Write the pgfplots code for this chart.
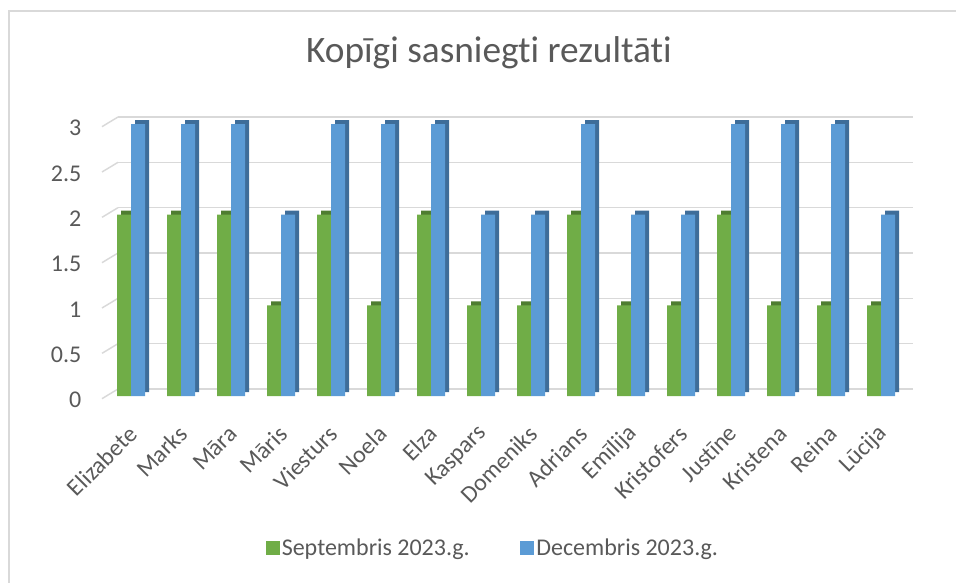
\documentclass[border=0pt]{standalone}
\usepackage{pgfplots}
\pgfplotsset{compat=1.18}
\usepackage{pgfplotstable}
\usepackage{fontspec}
\setmainfont{Carlito}[Ligatures={NoCommon,NoDiscretionary,NoRare}]
\definecolor{sgreen}{HTML}{70AD47}
\definecolor{dgreen}{HTML}{4E7D31}
\definecolor{sblue}{HTML}{5B9BD5}
\definecolor{dblue}{HTML}{3E6D99}
\definecolor{gridgray}{HTML}{D9D9D9}
\definecolor{txt}{HTML}{595959}
\pgfplotstableread{
x name sep dec
0 Elizabete 2 3
1 Marks 2 3
2 Māra 2 3
3 Māris 1 2
4 Viesturs 2 3
5 Noela 1 3
6 Elza 2 3
7 Kaspars 1 2
8 Domeniks 1 2
9 Adrians 2 3
10 Emīlija 1 2
11 Kristofers 1 2
12 Justīne 2 3
13 Kristena 1 3
14 Reina 1 3
15 Lūcija 1 2
}\data
\begin{document}
\begin{tikzpicture}[x=0.75pt,y=0.75pt]
\useasboundingbox (0,0) rectangle (956,582);
\draw[gridgray, line width=1.1pt] (9,-5) -- (9,571) -- (960,571);
\node[text=txt, font=\fontsize{28}{33}\selectfont] at (489,529) {Kopīgi sasniegti rezultāti};
\begin{axis}[
  at={(88.5pt,139.5pt)}, anchor=south west,
  scale only axis, width=596.25pt, height=204pt,
  xmin=-0.26, xmax=15.64, ymin=0, ymax=3,
  clip=false,
  axis line style={draw=none},
  major tick length=0pt,
  xtick={0,...,15},
  xticklabels from table={\data}{name},
  ytick={0,0.5,1,1.5,2,2.5,3},
  ymajorgrids,
  grid style={gridgray, line width=1.1pt, yshift=5.25pt},
  /pgf/number format/assume math mode=true,
  ticklabel style={font=\fontsize{18}{21}\selectfont, text=txt},
  yticklabel style={xshift=-24pt, yshift=-3pt},
  xticklabel style={yshift=-23pt, xshift=4pt, rotate=45, anchor=east},
  legend style={at={(0.472,-0.56)}, anchor=center, draw=none,
    font=\fontsize{18}{21}\selectfont, text=txt,
    /tikz/every even column/.append style={column sep=36pt}},
  legend columns=2,
]
\pgfplotsinvokeforeach{0,0.5,1,1.5,2,2.5,3}{
  \draw[gridgray, line width=1.1pt] ([yshift=5.25pt]axis cs:-0.26,#1) -- ([xshift=-12pt,yshift=-2pt]axis cs:-0.26,#1);
}
\addlegendimage{legend image code/.code={\fill[sgreen] (0pt,-4.5pt) rectangle (9.5pt,5pt);}}
\addlegendentry{Septembris 2023.g.}
\addlegendimage{legend image code/.code={\fill[sblue] (0pt,-4.5pt) rectangle (9.5pt,5pt);}}
\addlegendentry{Decembris 2023.g.}
\addplot[ybar, bar width=0.28, bar shift=-0.06, fill=dgreen, draw=none, yshift=3pt, forget plot] table[x=x,y=sep]{\data};
\addplot[ybar, bar width=0.28, bar shift=-0.14, fill=sgreen, draw=none, forget plot] table[x=x,y=sep]{\data};
\addplot[ybar, bar width=0.28, bar shift=0.22, fill=dblue, draw=none, yshift=3pt, forget plot] table[x=x,y=dec]{\data};
\addplot[ybar, bar width=0.28, bar shift=0.14, fill=sblue, draw=none, forget plot] table[x=x,y=dec]{\data};
\end{axis}
\end{tikzpicture}
\end{document}
